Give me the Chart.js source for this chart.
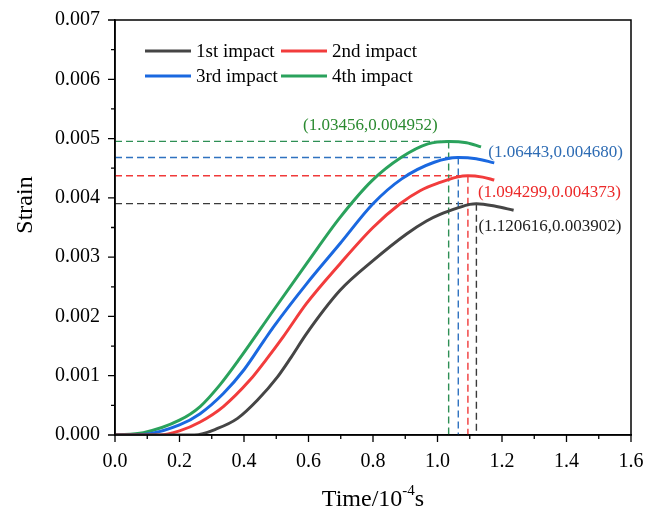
<!DOCTYPE html>
<html>
<head>
<meta charset="utf-8">
<script src="https://cdn.jsdelivr.net/npm/chart.js@4.4.1/dist/chart.umd.min.js"></script>
<style>
  html, body { margin: 0; padding: 0; background: #fff; }
  #wrap { width: 646px; height: 511px; }
</style>
</head>
<body>
<div id="wrap"><canvas id="strainChart" width="646" height="511"></canvas></div>
<script>
const impacts = ['1st impact', '2nd impact', '3rd impact', '4th impact'];

const time1 = [0, 0.246, 0.318, 0.38, 0.442, 0.504, 0.546, 0.594, 0.698, 0.8, 0.904, 0.966, 1.008, 1.063, 1.1, 1.120616, 1.18, 1.236];
const strain1 = [0, 0, 0.00011, 0.00028, 0.00059, 0.00098, 0.00131, 0.00171, 0.00244, 0.00294, 0.00339, 0.00361, 0.00372, 0.00383, 0.00389, 0.003902, 0.00386, 0.00379];

const time2 = [0, 0.14, 0.2, 0.264, 0.336, 0.419, 0.47, 0.522, 0.594, 0.698, 0.8, 0.884, 0.946, 1.008, 1.06, 1.094299, 1.14, 1.176];
const strain2 = [0, 0, 0.00007, 0.00022, 0.00048, 0.00093, 0.00128, 0.00166, 0.00222, 0.00289, 0.0035, 0.0039, 0.00412, 0.00426, 0.00435, 0.004373, 0.00435, 0.0043];

const time3 = [0, 0.088, 0.2, 0.264, 0.336, 0.4, 0.463, 0.491, 0.594, 0.698, 0.8, 0.889, 0.99, 1.06443, 1.12, 1.176];
const strain3 = [0, 0.00001, 0.00017, 0.00036, 0.0007, 0.0011, 0.0016, 0.00182, 0.00255, 0.00323, 0.0039, 0.00432, 0.0046, 0.00468, 0.00466, 0.00459];

const time4 = [0, 0.088, 0.2, 0.264, 0.326, 0.388, 0.491, 0.594, 0.698, 0.797, 0.887, 0.97, 1.03456, 1.09, 1.135];
const strain4 = [0, 0.00004, 0.00025, 0.00048, 0.00085, 0.0013, 0.0021, 0.00289, 0.00367, 0.00429, 0.00468, 0.00491, 0.004952, 0.00493, 0.00486];

const peakTime = [1.120616, 1.094299, 1.06443, 1.03456];
const peakStrain = [0.003902, 0.004373, 0.004680, 0.004952];

const lineColors = ['#454545', '#f23c3c', '#1a68e0', '#2aa25c'];
const dashColors = ['#3a3a3a', '#f03a3a', '#2f72c0', '#2e8f55'];
const labelColors = ['#1e1e1e', '#ec2a2a', '#2e6cb4', '#2a8a30'];

const serif = '"Liberation Serif", "Times New Roman", serif';

const series = [[time1, strain1], [time2, strain2], [time3, strain3], [time4, strain4]];
const datasets = series.map((s, i) => ({
  label: impacts[i],
  data: s[0].map((t, k) => ({ x: t, y: s[1][k] })),
  borderColor: lineColors[i],
  borderWidth: 3,
  pointRadius: 0,
  showLine: true,
  fill: false,
  cubicInterpolationMode: 'monotone'
}));

function isMultiple(v, step) {
  const r = v / step;
  return Math.abs(r - Math.round(r)) < 1e-6;
}

// frame, ticks, dashed guides, labels, legend, axis titles
const decorations = {
  id: 'decorations',
  beforeDatasetsDraw(chart) {
    const { ctx, scales: { x, y } } = chart;
    ctx.save();
    ctx.lineWidth = 1.4;
    ctx.setLineDash([7, 4]);
    peakTime.forEach((t, i) => {
      const px = x.getPixelForValue(t);
      const py = y.getPixelForValue(peakStrain[i]);
      ctx.strokeStyle = dashColors[i];
      ctx.beginPath();
      ctx.moveTo(x.left, py);
      ctx.lineTo(px, py);
      ctx.moveTo(px, py);
      ctx.lineTo(px, y.bottom);
      ctx.stroke();
    });
    ctx.restore();
  },
  afterDraw(chart) {
    const { ctx, chartArea: a, scales: { x, y } } = chart;
    ctx.save();
    // box
    ctx.strokeStyle = '#000';
    ctx.lineWidth = 1.5;
    ctx.strokeRect(a.left, a.top, a.right - a.left, a.bottom - a.top);

    // ticks outward
    ctx.lineWidth = 1.3;
    ctx.beginPath();
    y.ticks.forEach(t => {
      const py = y.getPixelForValue(t.value);
      const len = isMultiple(t.value, 0.001) ? 7 : 4;
      ctx.moveTo(a.left, py);
      ctx.lineTo(a.left - len, py);
    });
    x.ticks.forEach(t => {
      const px = x.getPixelForValue(t.value);
      const len = isMultiple(t.value, 0.2) ? 7 : 4;
      ctx.moveTo(px, a.bottom);
      ctx.lineTo(px, a.bottom + len);
    });
    ctx.stroke();

    // peak labels
    ctx.font = '17px ' + serif;
    ctx.textBaseline = 'middle';
    const offsets = [[2, 23, 'left'], [10, 17, 'left'], [30, -5, 'left'], [-11, -16, 'right']];
    peakTime.forEach((t, i) => {
      const px = x.getPixelForValue(t);
      const py = y.getPixelForValue(peakStrain[i]);
      ctx.fillStyle = labelColors[i];
      ctx.textAlign = offsets[i][2];
      ctx.fillText('(' + t + ',' + peakStrain[i].toFixed(6) + ')', px + offsets[i][0], py + offsets[i][1]);
    });

    // legend, two columns
    ctx.font = '19px ' + serif;
    ctx.textAlign = 'left';
    const cols = [a.left + 30, a.left + 166];
    const rows = [a.top + 31, a.top + 56];
    impacts.forEach((name, i) => {
      const lx = cols[i % 2];
      const ly = rows[Math.floor(i / 2)];
      ctx.strokeStyle = lineColors[i];
      ctx.lineWidth = 3;
      ctx.beginPath();
      ctx.moveTo(lx, ly);
      ctx.lineTo(lx + 46, ly);
      ctx.stroke();
      ctx.fillStyle = '#000';
      ctx.fillText(name, lx + 51, ly + 1);
    });

    // axis titles
    ctx.fillStyle = '#000';
    ctx.font = '24px ' + serif;
    ctx.save();
    ctx.translate(26, 205);
    ctx.rotate(-Math.PI / 2);
    ctx.textAlign = 'center';
    ctx.fillText('Strain', 0, 0);
    ctx.restore();

    const main = 'Time/10';
    const sup = '-4';
    const tail = 's';
    ctx.font = '24px ' + serif;
    const w1 = ctx.measureText(main).width;
    const w3 = ctx.measureText(tail).width;
    ctx.font = '15px ' + serif;
    const w2 = ctx.measureText(sup).width;
    const tx = (a.left + a.right) / 2 - (w1 + w2 + w3) / 2;
    const ty = 500;
    ctx.textAlign = 'left';
    ctx.font = '24px ' + serif;
    ctx.fillText(main, tx, ty);
    ctx.font = '15px ' + serif;
    ctx.fillText(sup, tx + w1, ty - 9);
    ctx.font = '24px ' + serif;
    ctx.fillText(tail, tx + w1 + w2, ty);
    ctx.restore();
  }
};

const ctx = document.getElementById('strainChart').getContext('2d');
new Chart(ctx, {
  type: 'scatter',
  data: { datasets },
  options: {
    responsive: false,
    animation: false,
    layout: { padding: { top: 19, right: 15, left: 0, bottom: 0 } },
    plugins: { legend: { display: false }, tooltip: { enabled: false } },
    scales: {
      x: {
        type: 'linear',
        min: 0,
        max: 1.6,
        border: { color: '#000', width: 1.5 },
        grid: { drawOnChartArea: false, tickLength: 14, tickColor: 'transparent' },
        ticks: {
          stepSize: 0.1,
          autoSkip: false,
          maxRotation: 0,
          padding: 1,
          color: '#000',
          font: { family: serif, size: 20 },
          callback: v => isMultiple(v, 0.2) ? v.toFixed(1) : ''
        },
        afterFit: s => { s.height = 76; }
      },
      y: {
        type: 'linear',
        min: 0,
        max: 0.007,
        border: { color: '#000', width: 1.5 },
        grid: { drawOnChartArea: false, tickLength: 7, tickColor: 'transparent' },
        ticks: {
          stepSize: 0.0005,
          autoSkip: false,
          padding: 8,
          color: '#000',
          font: { family: serif, size: 20 },
          callback: v => isMultiple(v, 0.001) ? v.toFixed(3) : ''
        },
        afterFit: s => { s.width = 115; }
      }
    }
  },
  plugins: [decorations]
});
</script>
</body>
</html>
